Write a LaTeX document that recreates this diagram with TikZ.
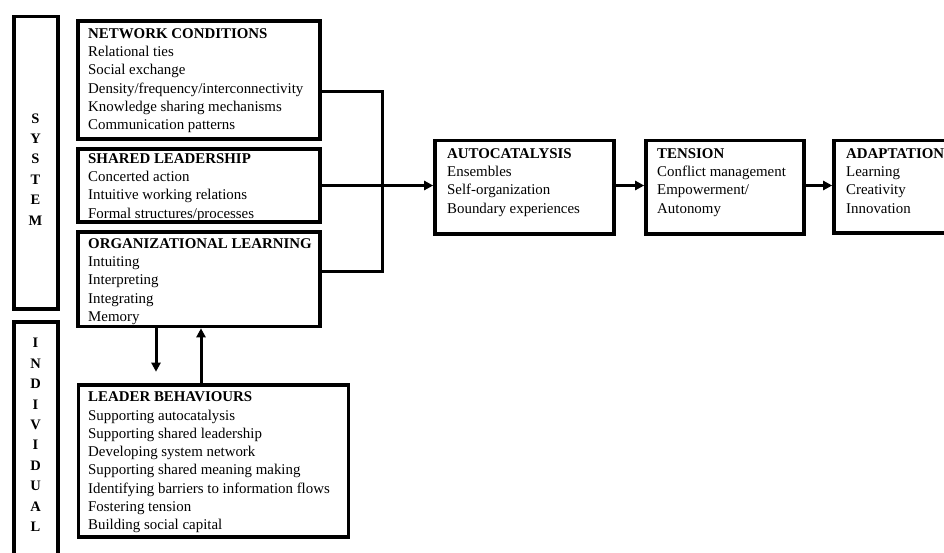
\documentclass[tikz,border=0pt]{standalone}
\usepackage{fontspec}
\setmainfont{Liberation Serif}
\usetikzlibrary{arrows.meta}
\begin{document}
\begin{tikzpicture}[x=1pt,y=-1pt,
  frame/.style={draw, line width=3.6pt, rectangle, anchor=north west, inner sep=0pt, outer sep=0pt},
  body/.style={anchor=north west, inner sep=0pt, align=left, font=\fontsize{14.9}{18.3}\selectfont},
  side/.style={anchor=north, inner sep=0pt, align=center, font=\fontsize{14.5}{20.4}\selectfont\bfseries},
  link/.style={line width=3pt},
  flow/.style={link, -{Triangle[length=9pt,width=9pt]}, shorten >=1.8pt}]
\clip (0,0) rectangle (944,552);
\fill[white] (0,0) rectangle (944,552);

% level labels on the left
\node[frame, minimum width=44pt, minimum height=292.5pt] (sys) at (14,16.5) {};
\node[side] (syst) at (35.5,113.2) {S\\Y\\S\\T\\E\\M};
\node[frame, minimum width=44pt, minimum height=250pt] (ind) at (14,322) {};
\node[side] (indt) at (35.5,338.2) {I\\N\\D\\I\\V\\I\\D\\U\\A\\L};

% system-level condition boxes
\node[frame, minimum width=242pt, minimum height=118pt] (nc) at (78,21) {};
\node[body] (nct) at (88,28.3) {\textbf{NETWORK CONDITIONS}\\Relational ties\\Social exchange\\Density/frequency/interconnectivity\\Knowledge sharing mechanisms\\Communication patterns};

\node[frame, minimum width=242pt, minimum height=73pt] (sl) at (78,149) {};
\node[body] (slt) at (88,153.2) {\textbf{SHARED LEADERSHIP}\\Concerted action\\Intuitive working relations\\Formal structures/processes};

\node[frame, minimum width=242pt, minimum height=94.8pt] (ol) at (78,231.7) {};
\node[body] (olt) at (88,238.3) {\textbf{ORGANIZATIONAL LEARNING}\\Intuiting\\Interpreting\\Integrating\\Memory};

% individual-level box
\node[frame, minimum width=270pt, minimum height=152pt] (lb) at (78.5,385) {};
\node[body] (lbt) at (88,391.7) {\textbf{LEADER BEHAVIOURS}\\Supporting autocatalysis\\Supporting shared leadership\\Developing system network\\Supporting shared meaning making\\Identifying barriers to information flows\\Fostering tension\\Building social capital};

% process chain
\node[frame, minimum width=179pt, minimum height=93.5pt] (auto) at (435,140.5) {};
\node[body] (autot) at (447,148.3) {\textbf{AUTOCATALYSIS}\\Ensembles\\Self-organization\\Boundary experiences};

\node[frame, minimum width=158pt, minimum height=93.5pt] (ten) at (646,140.5) {};
\node[body] (tent) at (657,148.3) {\textbf{TENSION}\\Conflict management\\Empowerment/\\Autonomy};

\node[frame, minimum width=150pt, minimum height=92.5pt] (ada) at (834,140.5) {};
\node[body] (adat) at (846,148.3) {\textbf{ADAPTATION}\\Learning\\Creativity\\Innovation};

% connectors
\coordinate (j1) at (382,91);
\coordinate (j2) at (382,271);
\draw[link] (nc.east |- j1) -- (j1) -- (j2) -- (ol.east |- j2);
\draw[flow] (sl.east) -- (auto.west |- sl.east);
\draw[flow] (auto.east |- sl.east) -- (ten.west |- sl.east);
\draw[flow] (ten.east |- sl.east) -- (ada.west |- sl.east);

\coordinate (dn) at (156,373.5);
\coordinate (up) at (201,0);
\draw[flow] (ol.south -| dn) -- (dn);
\draw[flow] (lb.north -| up) -- (ol.south -| up);
\end{tikzpicture}
\end{document}
